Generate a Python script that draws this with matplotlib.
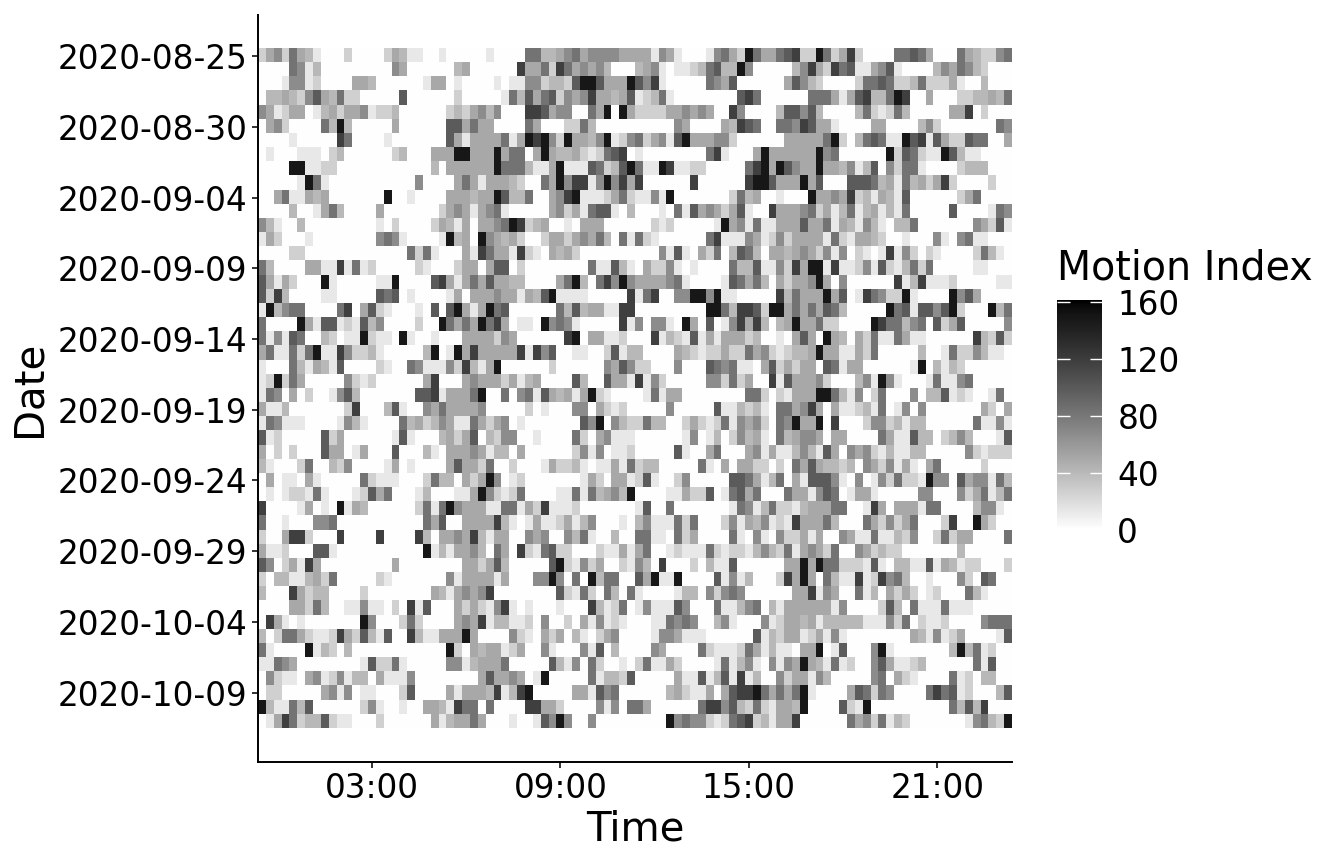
import matplotlib
matplotlib.use("Agg")
import matplotlib.pyplot as plt
import numpy as np
import pandas as pd
from matplotlib.colors import ListedColormap

# one string per day, 96 quarter-hour slots; each digit is a grey level
motion_rows = [
    "24526431000200002431100100000100" "00663345645555444415410001564296" "44678229624820000667640006432256",
    "00006513000000000540000003400000" "08446286454530003451011236733950" "00003584286711457100003546532000",
    "00015512000044300000014401000010" "11552332799744497581000006547000" "00047532000026676223622241003000",
    "03343257436220000070000002000001" "63746725458443471236100000000786" "00000066641478336980040002233436",
    "54124401342445122300000023245350" "00887455006490942222445454008500" "00377573000036212630000044802000",
    "04520000639300000400000077464400" "00640002263000000000054000043876" "00665874410000440000352000000065",
    "00001000008600001000000074144446" "14989529443591256245179444552000" "00044444692036761197817422766004",
    "01000111023000000230004449944494" "66049433421267801000000006810004" "94444449560000009276211973110000",
    "00009911220000000000003044444496" "66311491117623796119811220000068" "94975449443513705266100002333000",
    "00000196100000000000500004641444" "32006495881595848000000800000089" "97444947000777634163424820000200",
    "00461143400000009001000044434497" "33600458911124621151900000002634" "00100094454823143170000002460000",
    "00003001463000040000000245414561" "00000452416771030001061745424710" "08444562413613413160000070000165",
    "53100300000000010200002431404456" "98234001044400000021200000194516" "11444744614315310336000000054271",
    "14200010000000056510000193409543" "42002442454630616210000006811154" "12524444162144320010005105611000",
    "00002200000000000006261000418644" "18210434200000000005171042603763" "04434542515021018152021000026310",
    "63000044118161200000210002440477" "02000000006117310422510100006337" "11528499181125172136260000011000",
    "74142000910000011900007841464744" "33000046930685954444561000017646" "30424459405000000813811120000011",
    "72830000110000076701000014044454" "41437911110000081680055995911000" "00836444947018652291000095740000",
    "19356600006804721000107079414967" "00000063734411880000000009963887" "29946464763000009671775792000936",
    "60000941771217350000200964649684" "01109565100000815055109407015848" "30349446220000986635607247000005",
    "61517600320119211091001000444425" "40000008904411200081321714144423" "00104740943042611641100000083272",
    "46116269118522310000039019484444" "48185700110027133000043212242264" "52123349441142600000300162253110",
    "10006314317000021006511152831490" "00000200000054752200050007656110" "47242440761440000001903132000000",
    "12926400000521200000048000454442" "41340000730074418152000005526240" "08174445200035195100016115600000",
    "16504020015730000000778144469006" "05617434149210000161440000000066" "20214449963150260005033712100160",
    "41130000000280003710054644445000" "00201000550421200000500000711323" "10664584041123160150500000004204",
    "16511100001531000063423541164245" "01000000075905322633002421261545" "20659449080002552313300000061151",
    "71200000724000000171000342470325" "50010000620451110000001501302534" "10634554044000064117330235300017",
    "40202000744014000700031044454133" "04000000251501120000071004600045" "14113531740545213113300000521222",
    "31000260032500001401000047442600" "20001422310114162330000061040442" "20206474332305425141046000002000",
    "04011041000006211100026330424950" "12000000014204412710025000007764" "13604177751050152622195507455163",
    "01012216100012746000130001149521" "26000011616345390000114227016746" "00064415760144100000550005246136",
    "80000140109143000000261695444116" "61428111200000001700600000001651" "36221344466001840444166000035510",
    "60010005560000000000064700444483" "10141124135000103511162600025143" "51218444630006425246000280094200",
    "20048820008000080000830445483144" "00545005361003006611062400006105" "10522414005411611325002624400006",
    "41120007710000000000091314453064" "08216722000211414600121116212213" "53261454260054232200000003000000",
    "75024184000000000400000000442473" "00000792152400215308000203117000" "00044949662221710331171431220002",
    "20331134260000021000000051444414" "00055950609366007491190000715130" "00284940631181285630010005207600",
    "30008423300002000000004314545800" "00000072162063061000013305256500" "00004481540061304242012000631000",
    "00004426300115110208170004242158" "10100010008312601511175000611356" "03144444415000027306111611100000",
    "08410100000009500026200004548133" "11205002041512100011656500351000" "51244341333331115260211200005666",
    "30266421128427317008311444940000" "52104240310245000015541110000007" "13244124151000000004315124000017",
    "61000091320300000000000092043441" "24005100051703000054000062111264" "13110449017000591000000039361200",
    "11654000000001722610000055134446" "00000731506200102611420000161351" "05154943161200574112300000061700",
    "05211045125133041115000000004744" "54019000006133270000041171371813" "00524415300000560421000061203300",
    "02200000451501100027000041444381" "38900000441756000000342114047889" "64646910000476265000068671200037",
    "93116370000002510010044318660600" "00884420000515066400000068857326" "21443900007219000000000063738000",
    "01486233721100020000004134464000" "10017595005000000000956552126782" "31448000000645261320000000156329",
]
# motion index for each grey digit 0..9
level_values = [0, 13, 27, 41, 50, 67, 83, 99, 118, 148]

first_day = "2020-08-25"
date_ticks = ["2020-08-25", "2020-08-30", "2020-09-04", "2020-09-09", "2020-09-14",
              "2020-09-19", "2020-09-24", "2020-09-29", "2020-10-04", "2020-10-09"]
time_ticks = [3, 9, 15, 21]
time_labels = ["03:00", "09:00", "15:00", "21:00"]
cbar_ticks = [0, 40, 80, 120, 160]

values = np.array([[level_values[int(ch)] for ch in row] for row in motion_rows], dtype=float)
n_days, n_slots = values.shape
days = pd.date_range(first_day, periods=n_days, freq="D")
tick_rows = days.get_indexer(pd.to_datetime(date_ticks))

# white -> black, linear in lightness like ggplot's gradient
L = np.linspace(100, 0, 256)
Y = np.where(L > 8, ((L + 16) / 116) ** 3, L / 903.3)
g = np.where(Y > 0.0031308, 1.055 * Y ** (1 / 2.4) - 0.055, 12.92 * Y)
cmap = ListedColormap(np.column_stack([g, g, g]))

W, H = 1344, 865
fig = plt.figure(figsize=(W / 100, H / 100), dpi=100)
ax = fig.add_axes([258 / W, 1 - 762 / H, (1012 - 258) / W, (762 - 15) / H])

x0 = -0.625  # left edge of first quarter-hour slot, in hours
x1 = x0 + 0.25 * n_slots
img = ax.imshow(values, cmap=cmap, vmin=0, vmax=161.5, aspect="auto",
                interpolation="nearest", extent=(x0, x1, n_days - 0.5, -0.5))
pad = 0.05 * n_days
ax.set_xlim(x0, x1)
ax.set_ylim(n_days - 0.5 + pad, -0.5 - pad)

ax.set_xticks(time_ticks)
ax.set_xticklabels(time_labels)
ax.set_yticks(tick_rows)
ax.set_yticklabels(date_ticks)

for s in ["top", "right"]:
    ax.spines[s].set_visible(False)
for s in ["left", "bottom"]:
    ax.spines[s].set_linewidth(1.4)
ax.tick_params(length=4.5, width=1.4, color="#333333", labelsize=23.5, pad=3, labelcolor="black")
ax.set_xlabel("Time", fontsize=29, labelpad=3)
ax.set_ylabel("Date", fontsize=29, labelpad=6)

cax = fig.add_axes([1057 / W, 1 - 530 / H, 45 / W, 230 / H])
cb = fig.colorbar(img, cax=cax, ticks=cbar_ticks)
cb.outline.set_visible(False)
cax.yaxis.set_ticks_position("both")
cax.tick_params(direction="in", length=9, width=1, color="white", labelsize=23.5, pad=11,
                labelleft=False, labelright=True)
fig.text(1057 / W, 1 - 268 / H, "Motion Index", fontsize=28.5, ha="left", va="center")

fig.savefig("out.png", dpi=100)
